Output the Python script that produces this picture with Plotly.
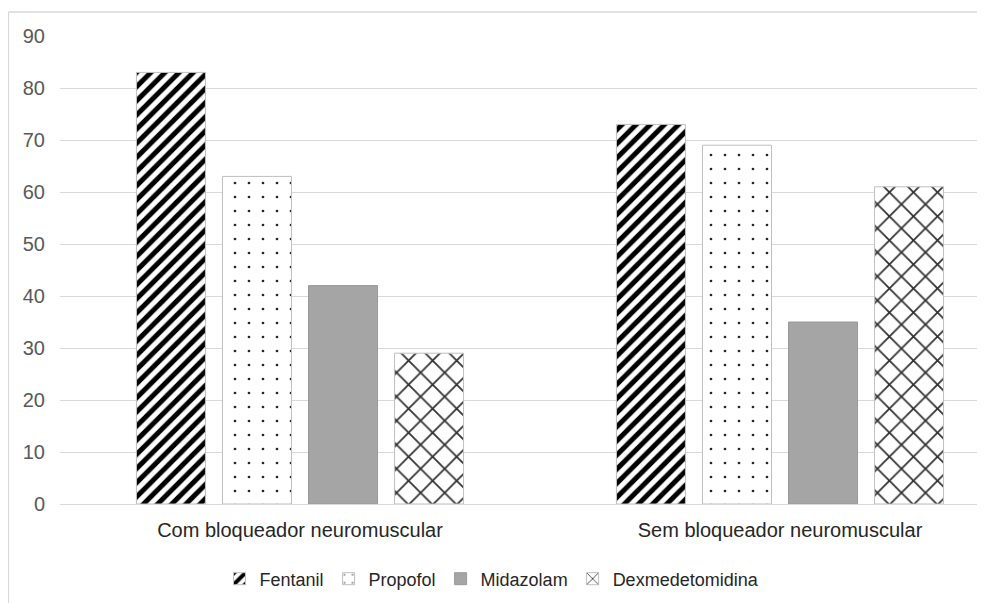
import plotly.graph_objects as go

categories = ["Com bloqueador neuromuscular", "Sem bloqueador neuromuscular"]
fentanil = [83, 73]
propofol = [63, 69]
midazolam = [42, 35]
dexmedetomidina = [29, 61]
y_ticks = [0, 10, 20, 30, 40, 50, 60, 70, 80, 90]

FONT = "Liberation Sans, Arial, sans-serif"

fig = go.Figure()
fig.add_trace(go.Bar(
    name="Fentanil", x=categories, y=fentanil,
    marker=dict(color="white", line=dict(color="#bfbfbf", width=1),
                pattern=dict(shape="/", fgcolor="black", bgcolor="white",
                             fgopacity=1, size=10, solidity=0.5, fillmode="overlay")),
))
fig.add_trace(go.Bar(
    name="Propofol", x=categories, y=propofol,
    marker=dict(color="white", line=dict(color="#bfbfbf", width=1),
                pattern=dict(shape=".", fgcolor="#262626", bgcolor="white",
                             fgopacity=1, size=14, solidity=0.03, fillmode="overlay")),
))
fig.add_trace(go.Bar(
    name="Midazolam", x=categories, y=midazolam,
    marker=dict(color="#a5a5a5", line=dict(color="#999999", width=1)),
))
fig.add_trace(go.Bar(
    name="Dexmedetomidina", x=categories, y=dexmedetomidina,
    marker=dict(color="white", line=dict(color="#bfbfbf", width=1),
                pattern=dict(shape="x", fgcolor="#333333", bgcolor="white",
                             fgopacity=1, size=17, solidity=0.2, fillmode="overlay")),
))

# page body has an 8px offset in the browser
W, H = 977, 595
L, T = 52, 28
B = H - 496
pw = W - L
ph = H - T - B
cat_w = 480.0
x_right = -0.5 + pw / cat_w

fig.update_layout(
    width=W, height=H,
    margin=dict(l=L, r=0, t=T, b=B, pad=0),
    paper_bgcolor="white", plot_bgcolor="white",
    barmode="group", bargap=0.283, bargroupgap=0.198,
    font=dict(family=FONT, size=20, color="#262626"),
    showlegend=True,
    legend=dict(orientation="h", x=(484 - L) / pw, xanchor="center",
                y=-(571 - (T + ph)) / ph, yanchor="middle",
                font=dict(family=FONT, size=18, color="#262626"),
                itemwidth=30, traceorder="normal"),
    xaxis=dict(range=[-0.5, x_right], showgrid=False, showline=False,
               ticks="", tickfont=dict(family=FONT, size=20, color="#262626"),
               ticklabelstandoff=12, automargin=False),
    yaxis=dict(range=[0, 90], tickvals=y_ticks, showgrid=True,
               gridcolor="#d9d9d9", gridwidth=1.3, zeroline=True,
               zerolinecolor="#d9d9d9", zerolinewidth=1.3, showline=False,
               ticks="", tickfont=dict(family=FONT, size=20, color="#595959"),
               ticklabelstandoff=14, automargin=False),
    shapes=[
        dict(type="line", xref="paper", yref="paper",
             x0=(0.5 - L) / pw, x1=1.05, y0=1 + (T - 4) / ph, y1=1 + (T - 4) / ph,
             line=dict(color="#d9d9d9", width=1.3)),
        dict(type="line", xref="paper", yref="paper",
             x0=(0.5 - L) / pw, x1=(0.5 - L) / pw, y0=1 + (T - 4) / ph, y1=-0.3,
             line=dict(color="#d9d9d9", width=1.3)),
    ],
)

fig.write_html("out.html")
